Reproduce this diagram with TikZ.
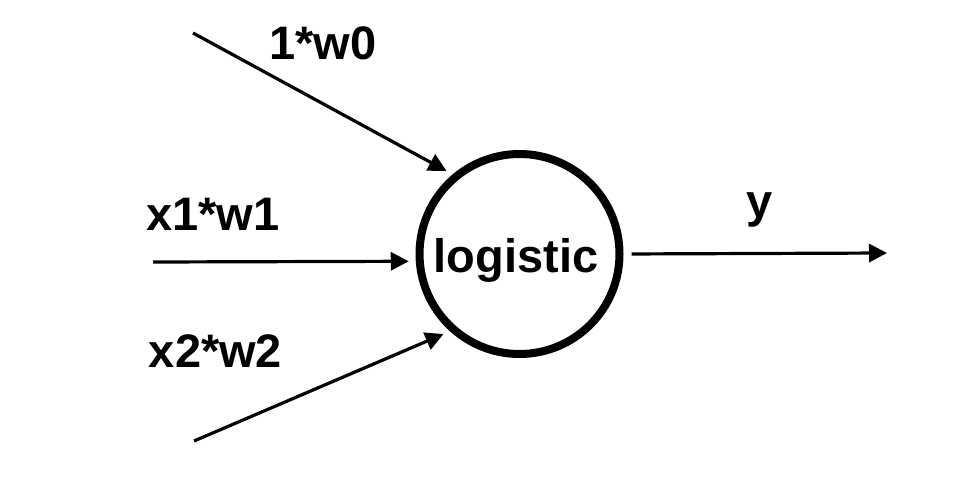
\documentclass[tikz,border=0pt]{standalone}
\usepackage{fontspec}
\setmainfont{Liberation Sans}
\usetikzlibrary{arrows.meta}
\tikzset{
  lbl/.style={anchor=base,font=\fontsize{47}{50}\bfseries\selectfont},
  inarrow/.style={line width=3.2pt,-{Triangle[length=18pt,width=18pt]},shorten >=7pt},
}
\begin{document}
\begin{tikzpicture}[x=1pt,y=-1pt]
  \useasboundingbox (0,0) rectangle (968,500);
  \node[draw,circle,line width=8pt,minimum size=200pt,inner sep=0pt] (logit) at (519.5,254) {};
  \node[lbl] (lg) at (516,272) {logistic};
  \coordinate (s0) at (193,33);
  \coordinate (s1) at (153,262);
  \coordinate (s2) at (194,441);
  \coordinate (out) at (887,253);
  \draw[inarrow] (s0) -- (logit.130);
  \draw[inarrow] (s1) -- (logit.184);
  \draw[inarrow] (s2) -- (logit.228);
  \draw[inarrow,shorten >=0pt,shorten <=8pt] (logit.0.5) -- (out);
  \node[lbl] (w0) at (323,60) {1*w0};
  \node[lbl] (w1) at (213,230) {x1*w1};
  \node[lbl] (w2) at (215.5,367) {x2*w2};
  \node[lbl] (y) at (760,217) {y};
\end{tikzpicture}
\end{document}
